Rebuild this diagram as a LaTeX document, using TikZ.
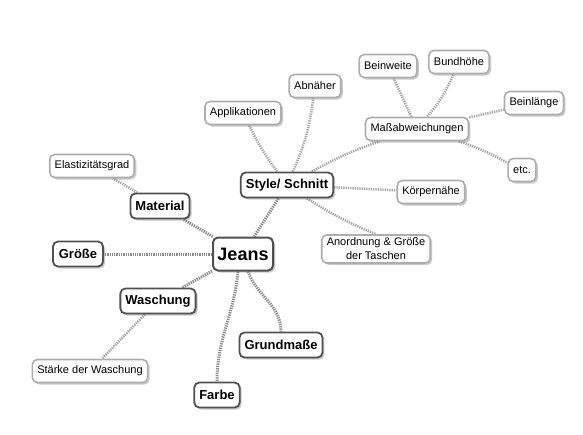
\documentclass[tikz,border=0pt]{standalone}
\usepackage{fontspec}
\setmainfont{Liberation Sans}
\usetikzlibrary{shadows,backgrounds}
\definecolor{mainborder}{HTML}{505050}
\definecolor{subborder}{HTML}{ADADAD}
\definecolor{linkgray}{HTML}{8C8C8C}
\tikzset{
  basebox/.style={rounded corners=5pt, fill=white, align=center,
    drop shadow={shadow xshift=2pt, shadow yshift=-2pt, opacity=0.35, fill=black!60}},
  rootbox/.style={basebox, draw=mainborder, line width=2pt, font=\fontsize{18}{20}\selectfont\bfseries,
    minimum width=60pt, minimum height=33pt, inner sep=2pt},
  mainbox/.style={basebox, draw=mainborder, line width=1.8pt, font=\fontsize{13}{15}\selectfont\bfseries,
    minimum height=25pt, inner xsep=5pt, inner ysep=3pt},
  subbox/.style={basebox, draw=subborder, line width=1.6pt, font=\fontsize{11}{13}\selectfont,
    minimum height=23pt, inner xsep=5pt, inner ysep=3pt},
  link/.style={draw=linkgray, line width=3pt, dash pattern=on 1.3pt off 1pt},
  sublink/.style={draw=linkgray!75, line width=2.6pt, dash pattern=on 1.3pt off 1pt}
}
\begin{document}
\begin{tikzpicture}[x=1pt,y=-1pt]
\useasboundingbox (0,0) rectangle (583,434);
% root
\node[rootbox] (jeans) at (243,254) {Jeans};
% main level
\node[mainbox] (style) at (287,185) {Style/ Schnitt};
\node[mainbox] (material) at (160,206) {Material};
\node[mainbox, minimum width=50pt] (groesse) at (78,254) {Größe};
\node[mainbox] (waschung) at (158,301) {Waschung};
\node[mainbox] (grund) at (281,345) {Grundmaße};
\node[mainbox] (farbe) at (217,395) {Farbe};
% sub level
\node[subbox] (elast) at (92,166) {Elastizitätsgrad};
\node[subbox] (staerke) at (90,371) {Stärke der Waschung};
\node[subbox] (appl) at (243,113) {Applikationen};
\node[subbox] (abn) at (315,86) {Abnäher};
\node[subbox] (mass) at (417,129) {Maßabweichungen};
\node[subbox] (weite) at (388,66) {Beinweite};
\node[subbox] (bund) at (459,62) {Bundhöhe};
\node[subbox] (laenge) at (534,103) {Beinlänge};
\node[subbox] (etc) at (522,170) {etc.};
\node[subbox] (koerper) at (431,192) {Körpernähe};
\node[subbox, font=\fontsize{11}{14}\selectfont] (tasch) at (376,249) {Anordnung \& Größe\\der Taschen};
% connectors
\begin{scope}[on background layer]
\draw[link] (jeans) -- (style);
\draw[link] (jeans) -- (material);
\draw[link] (jeans) -- (groesse);
\draw[link] (jeans) -- (waschung);
\draw[link] (jeans.south) ++(5,0) coordinate (jg) to[out=-70,in=90] (grund.north);
\draw[link] (jeans.south) ++(-5,0) coordinate (jf) to[out=-95,in=90] (farbe.north);
\draw[sublink] (material) -- (elast);
\draw[sublink] (waschung) -- (staerke);
\draw[sublink] (style) to[bend left=5] (appl);
\draw[sublink] (style) to[bend right=8] (abn);
\draw[sublink] (style) to[bend left=5] (mass);
\draw[sublink] (style) -- (koerper);
\draw[sublink] (style) to[bend right=5] (tasch.north);
\draw[sublink] (mass) -- (weite);
\draw[sublink] (mass) to[bend right=8] (bund);
\draw[sublink] (mass) -- (laenge);
\draw[sublink] (mass) to[bend left=5] (etc);
\end{scope}
\end{tikzpicture}
\end{document}
